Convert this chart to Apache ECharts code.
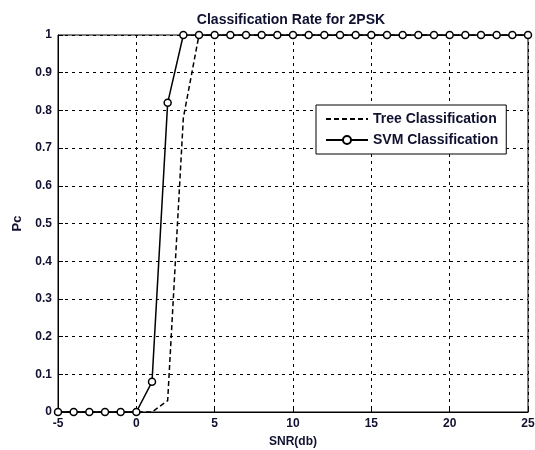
<!DOCTYPE html>
<html>
<head>
<meta charset="utf-8">
<script src="https://cdn.jsdelivr.net/npm/echarts@6/dist/echarts.min.js"></script>
<style>
  html, body { margin: 0; padding: 0; background: #fff; }
  #chart { width: 535px; height: 450px; }
</style>
</head>
<body>
<div id="chart"></div>
<script>
// SNR values (db), one point per integer
var snr = [-5, -4, -3, -2, -1, 0, 1, 2, 3, 4, 5, 6, 7, 8, 9, 10, 11, 12, 13, 14, 15, 16, 17, 18, 19, 20, 21, 22, 23, 24, 25];
var treeRate = [0, 0, 0, 0, 0, 0, 0, 0.03, 0.78, 1, 1, 1, 1, 1, 1, 1, 1, 1, 1, 1, 1, 1, 1, 1, 1, 1, 1, 1, 1, 1, 1];
var svmRate = [0, 0, 0, 0, 0, 0, 0.08, 0.82, 1, 1, 1, 1, 1, 1, 1, 1, 1, 1, 1, 1, 1, 1, 1, 1, 1, 1, 1, 1, 1, 1, 1];
var seriesNames = ['Tree Classification', 'SVM Classification'];

function pairs(xs, ys) {
    return xs.map(function (x, i) { return [x, ys[i]]; });
}

var font = 'Liberation Sans, Arial, sans-serif';
var textColor = '#101030';

var myChart = echarts.init(document.getElementById('chart'), null, { renderer: 'canvas' });

var option = {
    backgroundColor: '#fff',
    animation: false,
    title: {
        text: 'Classification Rate for 2PSK',
        left: 286,
        textAlign: 'center',
        top: 8,
        textStyle: { fontFamily: font, fontSize: 14, fontWeight: 'bold', color: textColor }
    },
    legend: {
        data: [
            // no marker on the dashed line
            { name: seriesNames[0], itemStyle: { color: 'rgba(0,0,0,0)', borderWidth: 0 } },
            { name: seriesNames[1] }
        ],
        orient: 'vertical',
        left: 316,
        top: 105,
        padding: [7, 8, 7, 9],
        itemGap: 7,
        itemWidth: 42,
        itemHeight: 10,
        borderColor: '#000',
        borderWidth: 1,
        backgroundColor: '#fff',
        textStyle: { fontFamily: font, fontSize: 14, fontWeight: 'bold', color: textColor }
    },
    grid: {
        left: 58,
        right: 7,
        top: 35,
        bottom: 38,
        outerBoundsMode: 'none',
        show: true,
        borderColor: '#000',
        borderWidth: 1
    },
    xAxis: {
        type: 'value',
        min: -5,
        max: 25,
        interval: 5,
        name: 'SNR(db)',
        nameLocation: 'middle',
        nameGap: 24,
        nameTextStyle: { fontFamily: font, fontSize: 12, fontWeight: 'bold', color: textColor },
        axisLine: { onZero: false, lineStyle: { color: '#000' } },
        axisTick: { inside: true, length: 5, lineStyle: { color: '#000' } },
        axisLabel: { fontFamily: font, fontSize: 12, fontWeight: 'bold', color: textColor, margin: 6 },
        splitLine: { show: true, lineStyle: { color: '#000', type: [3, 4], width: 1 } }
    },
    yAxis: {
        type: 'value',
        min: 0,
        max: 1,
        interval: 0.1,
        name: 'Pc',
        nameLocation: 'middle',
        nameGap: 28,
        nameTextStyle: { fontFamily: font, fontSize: 13, fontWeight: 'bold', color: textColor },
        axisLine: { onZero: false, lineStyle: { color: '#000' } },
        axisTick: { inside: true, length: 5, lineStyle: { color: '#000' } },
        axisLabel: {
            fontFamily: font, fontSize: 12, fontWeight: 'bold', color: textColor, margin: 6,
            formatter: function (v) { return String(Math.round(v * 10) / 10); }
        },
        splitLine: { show: true, lineStyle: { color: '#000', type: [3, 4], width: 1 } }
    },
    series: [
        {
            name: seriesNames[0],
            type: 'line',
            data: pairs(snr, treeRate),
            symbol: 'none',
            color: '#000',
            lineStyle: { color: '#000', width: 1.5, type: [5, 3] },
            z: 2
        },
        {
            name: seriesNames[1],
            type: 'line',
            data: pairs(snr, svmRate),
            symbol: 'circle',
            symbolSize: 7,
            showAllSymbol: true,
            color: '#000',
            itemStyle: { color: '#fff', borderColor: '#000', borderWidth: 1.5 },
            lineStyle: { color: '#000', width: 1.5 },
            z: 3
        }
    ]
};

myChart.setOption(option);
window.addEventListener('resize', myChart.resize);
</script>
</body>
</html>
